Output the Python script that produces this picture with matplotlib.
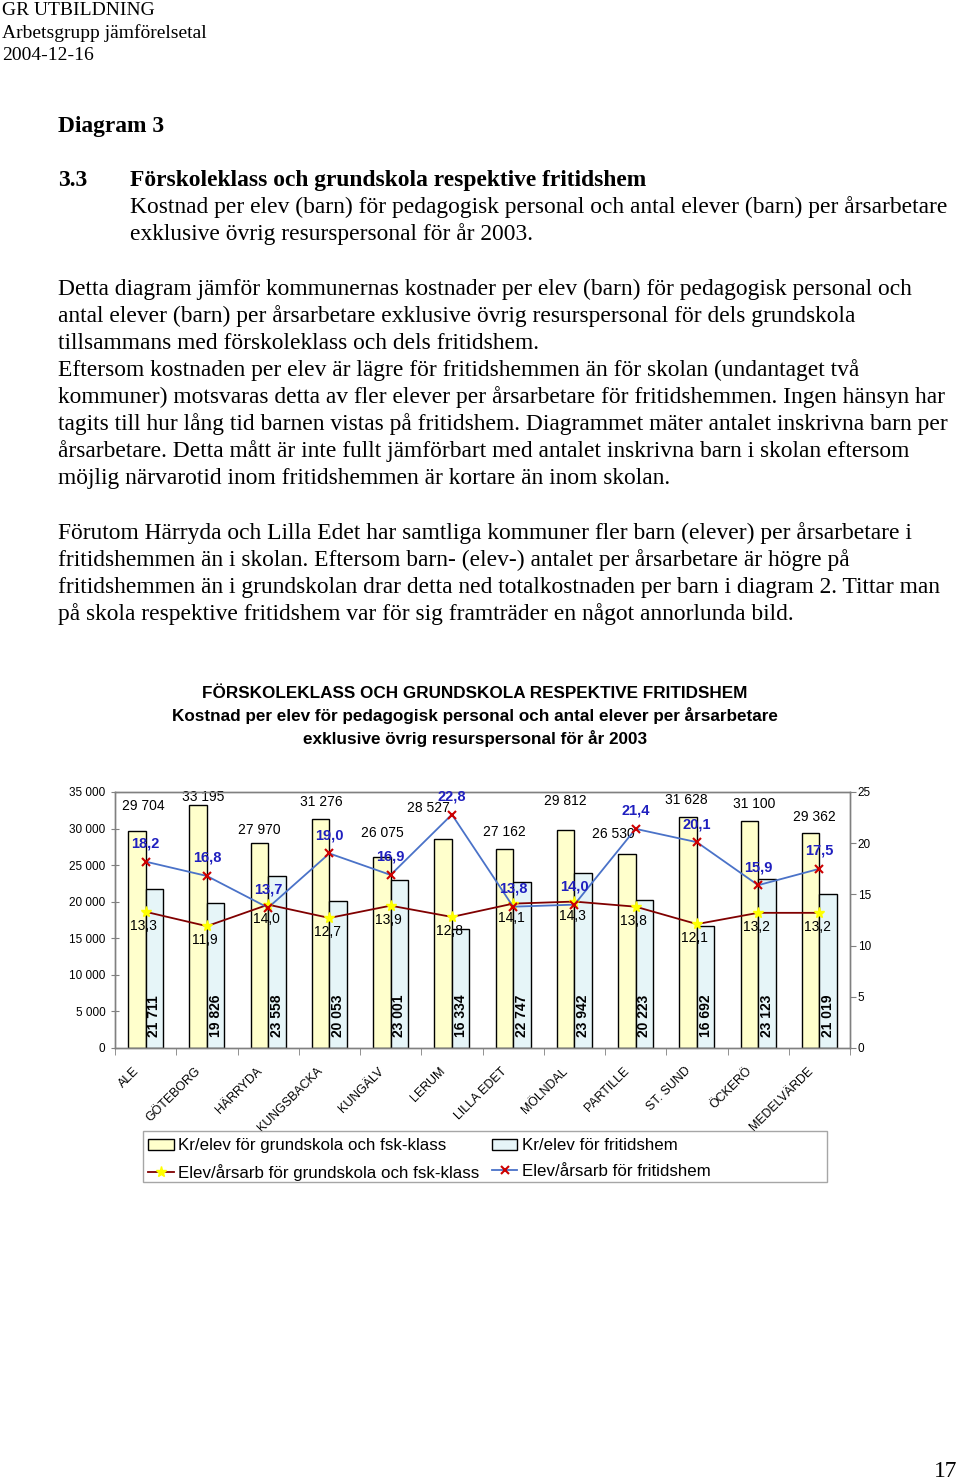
import matplotlib
matplotlib.use("Agg")
import matplotlib.pyplot as plt
import matplotlib.transforms as mtransforms
from matplotlib.patches import Patch, Rectangle
from matplotlib.lines import Line2D
from matplotlib.ticker import FuncFormatter
import numpy as np

# ---------------- data ----------------
categories = ["ALE", "GÖTEBORG", "HÄRRYDA", "KUNGSBACKA", "KUNGÄLV", "LERUM",
              "LILLA EDET", "MÖLNDAL", "PARTILLE", "ST. SUND", "ÖCKERÖ", "MEDELVÄRDE"]
kr_grund = [29704, 33195, 27970, 31276, 26075, 28527, 27162, 29812, 26530, 31628, 31100, 29362]
kr_frit = [21711, 19826, 23558, 20053, 23001, 16334, 22747, 23942, 20223, 16692, 23123, 21019]
elev_grund = [13.3, 11.9, 14.0, 12.7, 13.9, 12.8, 14.1, 14.3, 13.8, 12.1, 13.2, 13.2]
elev_frit = [18.2, 16.8, 13.7, 19.0, 16.9, 22.8, 13.8, 14.0, 21.4, 20.1, 15.9, 17.5]
left_ticks = [0, 5000, 10000, 15000, 20000, 25000, 30000, 35000]
right_ticks = [0, 5, 10, 15, 20, 25]
legend_labels = ["Kr/elev för grundskola och fsk-klass", "Elev/årsarb för grundskola och fsk-klass",
                 "Kr/elev för fritidshem", "Elev/årsarb för fritidshem"]

header_lines = ["GR UTBILDNING", "Arbetsgrupp jämförelsetal", "2004-12-16"]
chart_title = ["FÖRSKOLEKLASS OCH GRUNDSKOLA RESPEKTIVE FRITIDSHEM",
               "Kostnad per elev för pedagogisk personal och antal elever per årsarbetare",
               "exklusive övrig resurspersonal för år 2003"]
section_no = "3.3"
section_title = "Förskoleklass och grundskola respektive fritidshem"
section_sub = ["Kostnad per elev (barn) för pedagogisk personal och antal elever (barn) per årsarbetare",
               "exklusive övrig resurspersonal för år 2003."]
para1 = ["Detta diagram jämför kommunernas kostnader per elev (barn) för pedagogisk personal och",
         "antal elever (barn) per årsarbetare exklusive övrig resurspersonal för dels grundskola",
         "tillsammans med förskoleklass och dels fritidshem.",
         "Eftersom kostnaden per elev är lägre för fritidshemmen än för skolan (undantaget två",
         "kommuner) motsvaras detta av fler elever per årsarbetare för fritidshemmen. Ingen hänsyn har",
         "tagits till hur lång tid barnen vistas på fritidshem. Diagrammet mäter antalet inskrivna barn per",
         "årsarbetare. Detta mått är inte fullt jämförbart med antalet inskrivna barn i skolan eftersom",
         "möjlig närvarotid inom fritidshemmen är kortare än inom skolan."]
para2 = ["Förutom Härryda och Lilla Edet har samtliga kommuner fler barn (elever) per årsarbetare i",
         "fritidshemmen än i skolan. Eftersom barn- (elev-) antalet per årsarbetare är högre på",
         "fritidshemmen än i grundskolan drar detta ned totalkostnaden per barn i diagram 2. Tittar man",
         "på skola respektive fritidshem var för sig framträder en något annorlunda bild."]

# label nudges (pixels) for the school-cost labels, as placed in the original
grund_label_nudge = [(6, 25), (5, 8), (0, 13), (1, 17), (1, 24), (-15, 31),
                     (0, 17), (0, 29), (-13, 20), (-2, 17), (5, 17), (4, 16)]

# ---------------- figure ----------------
W, H = 960, 1480
fig = plt.figure(figsize=(W / 100, H / 100), dpi=100)
SERIF = "Liberation Serif"
SANS = "Liberation Sans"
BODY = 16.9


def ptext(x, y, s, **kw):
    kw.setdefault("family", SERIF)
    kw.setdefault("va", "baseline")
    kw.setdefault("ha", "left")
    fig.text(x / W, 1 - y / H, s, **kw)


for i, s in enumerate(header_lines):
    ptext(2, 15 + i * 22.5, s, fontsize=14)

ptext(58, 132, "Diagram 3", fontsize=BODY, weight="bold")
ptext(58, 186, section_no, fontsize=BODY, weight="bold")
ptext(130, 186, section_title, fontsize=BODY, weight="bold")
for i, s in enumerate(section_sub):
    ptext(130, 213 + i * 27, s, fontsize=BODY)
for i, s in enumerate(para1):
    ptext(58, 295 + i * 27, s, fontsize=BODY)
for i, s in enumerate(para2):
    ptext(58, 539 + i * 27, s, fontsize=BODY)
ptext(957, 1477, "17", fontsize=BODY, ha="right")

for i, (s, yb) in enumerate(zip(chart_title, [698, 721, 744])):
    fig.text(475 / W, 1 - yb / H, s, family=SANS, weight="bold", fontsize=12.3,
             ha="center", va="baseline")

# ---------------- chart ----------------
ax = fig.add_axes([115 / W, 1 - 1048 / H, 735 / W, 256 / H])
x = np.arange(len(categories))
w = 0.286
YEL = "#FFFFCC"
CYA = "#E6F5F8"
ax.bar(x - w / 2, kr_grund, w, color=YEL, edgecolor="black", linewidth=1.0, zorder=2)
ax.bar(x + w / 2, kr_frit, w, color=CYA, edgecolor="black", linewidth=1.0, zorder=2)
ax.set_xlim(-0.5, len(categories) - 0.5)
ax.set_ylim(0, 35000)
ax.set_yticks(left_ticks)
ax.yaxis.set_major_formatter(FuncFormatter(lambda v, p: f"{int(v):,}".replace(",", " ")))
ax.tick_params(axis="y", direction="inout", length=6, color="#808080", labelsize=8.5, pad=4)
for t in ax.get_yticklabels():
    t.set_family(SANS)
ax.set_xticks(x)
ax.set_xticklabels([])
ax.tick_params(axis="x", which="major", length=0)
ax.set_xticks(np.arange(-0.5, len(categories)), minor=True)
ax.tick_params(axis="x", which="minor", direction="out", length=5, color="#808080")
for sp in ax.spines.values():
    sp.set_color("#808080")
    sp.set_linewidth(1.0)

# category labels
lab_tr = mtransforms.offset_copy(ax.get_xaxis_transform(), fig=fig, x=-4, y=-17, units="dots")
for xi, c in zip(x, categories):
    ax.text(xi, 0, c, transform=lab_tr, rotation=45, ha="right", va="top",
            family=SANS, fontsize=8.9)

# bar value labels
for xi, v, (dx, dy) in zip(x, kr_grund, grund_label_nudge):
    ax.annotate(f"{v:,}".replace(",", " "), (xi - w / 2, v), xytext=(dx, dy),
                textcoords="offset pixels", ha="center", va="center",
                family=SANS, fontsize=10, zorder=5)
for xi, v in zip(x, kr_frit):
    ax.annotate(f"{v:,}".replace(",", " "), (xi + w / 2, 0), xytext=(0, 11),
                textcoords="offset pixels", ha="center", va="bottom", rotation=90,
                family=SANS, fontsize=10, weight="bold", zorder=5)

ax2 = ax.twinx()
ax2.set_ylim(0, 25)
ax2.set_yticks(right_ticks)
ax2.tick_params(axis="y", direction="out", length=4, color="#808080", labelsize=8.5, pad=1.5)
for t in ax2.get_yticklabels():
    t.set_family(SANS)
for sp in ax2.spines.values():
    sp.set_color("#808080")
    sp.set_linewidth(1.0)

LG_COL = "#800000"
LF_COL = "#4A72C8"
ax2.plot(x, elev_grund, color=LG_COL, lw=1.3, marker="*", ms=8,
         mfc="#FFFF00", mec="#FFFF00", zorder=3)
ax2.plot(x, elev_frit, color=LF_COL, lw=1.3, marker="x", ms=6,
         mec="#CC0000", mew=1.5, zorder=3)

for xi, v in zip(x, elev_grund):
    ax2.annotate(f"{v:.1f}".replace(".", ","), (xi, v), xytext=(-2, -14),
                 textcoords="offset pixels", ha="center", va="center",
                 family=SANS, fontsize=10, zorder=6)
for xi, v in zip(x, elev_frit):
    ax2.annotate(f"{v:.1f}".replace(".", ","), (xi, v), xytext=(0, 18),
                 textcoords="offset pixels", ha="center", va="center",
                 family=SANS, fontsize=10.5, weight="bold", color="#1F1FBF", zorder=6)

# legend
handles = [Patch(facecolor=YEL, edgecolor="black", linewidth=1.0),
           Line2D([], [], color=LG_COL, lw=1.3, marker="*", ms=8, mfc="#FFFF00", mec="#FFFF00"),
           Patch(facecolor=CYA, edgecolor="black", linewidth=1.0),
           Line2D([], [], color=LF_COL, lw=1.3, marker="x", ms=6, mec="#CC0000", mew=1.5)]
leg = fig.legend(handles, legend_labels, loc="upper left",
                 bbox_to_anchor=(145 / W, 1 - 1135 / H), frameon=False, ncol=2,
                 prop={"family": SANS, "size": 12.2}, handlelength=1.5, handleheight=0.7,
                 handletextpad=0.25, columnspacing=0.75, borderpad=0.2, labelspacing=0.6,
                 borderaxespad=0)
fig.patches.append(Rectangle((143 / W, 1 - 1182 / H), 684 / W, 51 / H, transform=fig.transFigure,
                             fill=False, edgecolor="#A6A6A6", linewidth=1.0))

fig.savefig("out.png", dpi=100)
